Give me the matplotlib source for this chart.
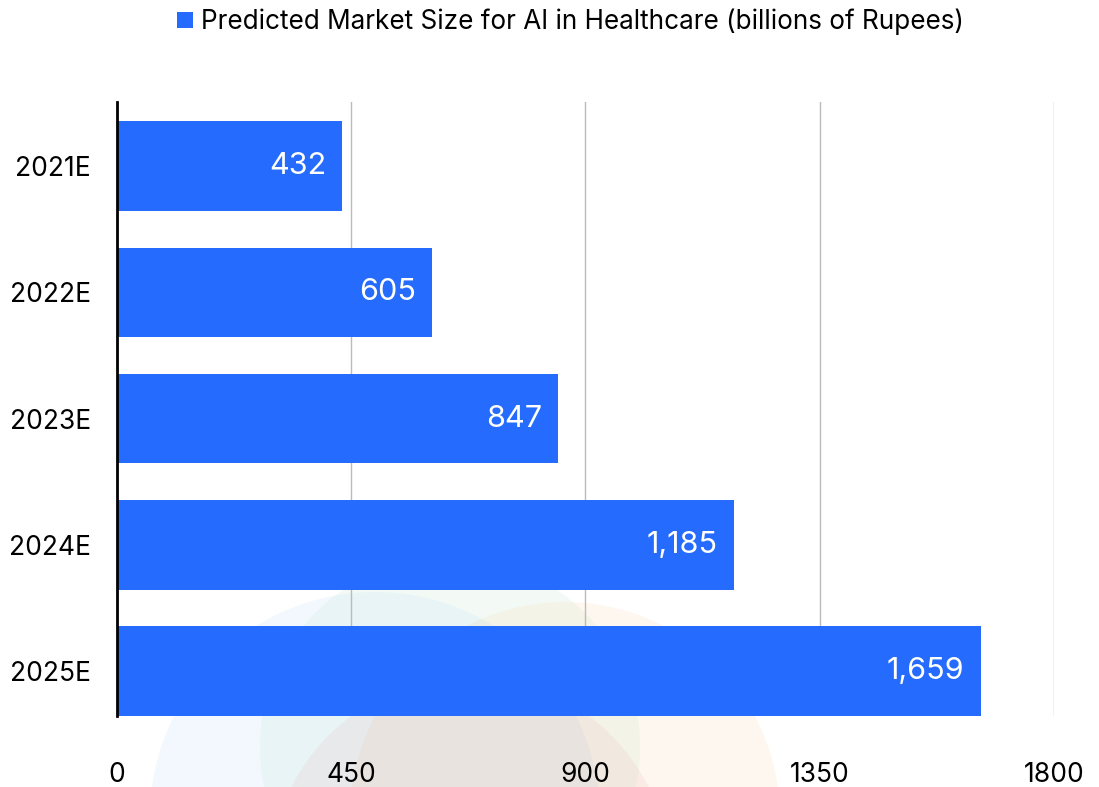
import matplotlib.pyplot as plt
from matplotlib.patches import Circle

plt.rcParams['font.family'] = ['Inter', 'DejaVu Sans']

years = ['2021E', '2022E', '2023E', '2024E', '2025E']
market_size = [432, 605, 847, 1185, 1659]
x_ticks = [0, 450, 900, 1350, 1800]
series_name = 'Predicted Market Size for AI in Healthcare (billions of Rupees)'
bar_color = '#246BFE'

fig = plt.figure(figsize=(10.99, 7.87), dpi=100)

# faint watermark circles behind the chart (pixel coords)
for cx, cy, r, c in [(375, -30, 225, '#9ecbf0'), (450, 40, 190, '#a8dcc0'),
                     (565, -30, 215, '#f5c48a'), (470, -90, 200, '#e7a0a8')]:
    fig.patches.append(Circle((cx, cy), r, transform=None, color=c, alpha=0.13, zorder=-1, lw=0))

ax = fig.add_axes([0.1065, 0.0902, 0.8525, 0.7798])
ax.patch.set_alpha(0)

pos = range(len(years))
bars = ax.barh(pos, market_size, height=0.71, color=bar_color, zorder=3)
ax.set_ylim(4.356, -0.507)
ax.set_xlim(0, 1800)

for b, v in zip(bars, market_size):
    ax.annotate(f'{v:,}', (v, b.get_y() + b.get_height() / 2), xytext=(-11.5, 0),
                textcoords='offset points', color='white',
                fontsize=22, ha='right', va='center', zorder=4)

ax.set_yticks(list(pos))
ax.set_yticklabels(years, fontsize=19)
ax.set_xticks(x_ticks)
ax.set_xticklabels([str(t) for t in x_ticks], fontsize=19)
ax.tick_params(axis='both', length=0)
ax.tick_params(axis='x', pad=33)
ax.tick_params(axis='y', pad=19)

ax.grid(axis='x', color='#bbbbbb', lw=1, zorder=1)
for s in ['top', 'right', 'bottom']:
    ax.spines[s].set_visible(False)
ax.spines['left'].set_linewidth(2)
ax.spines['left'].set_zorder(5)

ax.legend([bars], [series_name], loc='center', bbox_to_anchor=(0.519, 0.972),
          bbox_transform=fig.transFigure, frameon=False, fontsize=18.8,
          handlelength=0.6, handleheight=0.6, handletextpad=0.3)

fig.savefig('out.png', dpi=100)
